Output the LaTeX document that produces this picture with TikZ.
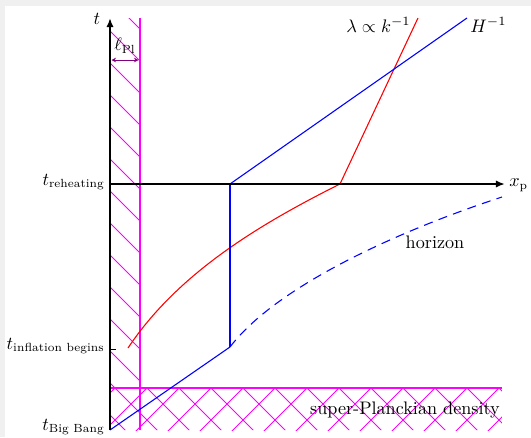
\documentclass[tikz,border=0pt]{standalone}
\usepackage{amsmath}
\usetikzlibrary{arrows.meta}
\definecolor{mag}{RGB}{255,0,255}
\definecolor{pur}{RGB}{128,0,128}
\definecolor{rd}{RGB}{255,0,0}
\definecolor{bl}{RGB}{0,0,255}
\newcommand{\subtxt}[1]{\text{\fontsize{6.5}{7}\selectfont #1}}
\begin{document}
\begin{tikzpicture}[x=0.551pt,y=-0.551pt,
  axisline/.style={line width=1.2pt,-{Latex[length=5pt,width=4pt]}},
  hatchline/.style={mag,line width=0.5pt},
  planck/.style={mag,semithick},
  curve/.style={semithick},
  lbl/.style={inner sep=0pt}]
\fill[black!6] (0,0) rectangle (531,437);
\fill[white] (5,6) rectangle (531,437);
\useasboundingbox (0,0) rectangle (531,437);

% named points
\coordinate (O) at (110,430);
\coordinate (T) at (110,18);
\coordinate (R) at (110,184);
\coordinate (XE) at (505,184);
\coordinate (A) at (230,184);
\coordinate (B) at (230,347);
\coordinate (C) at (340,184);
\coordinate (HT) at (467,18);
\coordinate (LT) at (418,18);
\coordinate (TI) at (110,349);
\coordinate (TIr) at (116,349);
\coordinate (RS) at (128,348);
\coordinate (HZ) at (502,197);

% hatching
\begin{scope}
\clip (110,18) rectangle (140,430) (110,388) rectangle (502,430);
\foreach \k in {0,...,15} \draw[hatchline] ({111-32*\k},0) -- ({551-32*\k},440);
\end{scope}
\begin{scope}
\clip (110,388) rectangle (502,430);
\foreach \k in {-1,...,14} \draw[hatchline] ({887-32*\k},0) -- ({447-32*\k},440);
\end{scope}
\coordinate (P1) at (140,18);
\coordinate (P2) at (140,430);
\coordinate (P3) at (110,388);
\coordinate (P4) at (502,388);
\draw[planck] (P1) -- (P2);
\draw[planck] (P3) -- (P4);

% l_Pl
\coordinate (L1) at (111.5,60);
\coordinate (L2) at (138.5,60);
\draw[pur,line width=0.5pt,{Stealth[length=2.5pt,width=2.5pt]}-{Stealth[length=2.5pt,width=2.5pt]}] (L1) -- (L2);
\node[lbl] (lpl) at (125,46) {$\ell_{\subtxt{Pl}}$};

% red curves
\draw[rd,curve] (RS) .. controls (178,273) and (260,224) .. (C);
\draw[rd,curve] (C) -- (LT);

% blue
\draw[bl,curve] (A) -- (HT);
\draw[bl,curve] (A) -- (B);
\draw[bl,curve] (B) -- (O);
\draw[bl,curve,dash pattern=on 5pt off 3.5pt] (B) .. controls (275,288) and (392,233) .. (HZ);

% axes
\draw[axisline] (O) -- (T);
\draw[axisline] (R) -- (XE);
\draw[line width=0.5pt] (TI) -- (TIr);

% labels
\node[lbl] (tl) at (97,19) {$t$};
\node[lbl,anchor=west] (xl) at (509,185) {$x_{\subtxt{p}}$};
\node[lbl,anchor=east] (tr) at (105,182) {$t_{\subtxt{reheating}}$};
\node[lbl,anchor=east] (tib) at (105,346) {$t_{\subtxt{inflation begins}}$};
\node[lbl,anchor=east] (tbb) at (105,427) {$t_{\subtxt{Big Bang}}$};
\node[lbl,anchor=west] (hl) at (470,25) {$H^{-1}$};
\node[lbl,anchor=east] (ll) at (411,25) {$\lambda\propto k^{-1}$};
\node[lbl] (hz) at (435,242) {horizon};
\node[lbl] (sp) at (405,410) {super-Planckian density};
\end{tikzpicture}
\end{document}
